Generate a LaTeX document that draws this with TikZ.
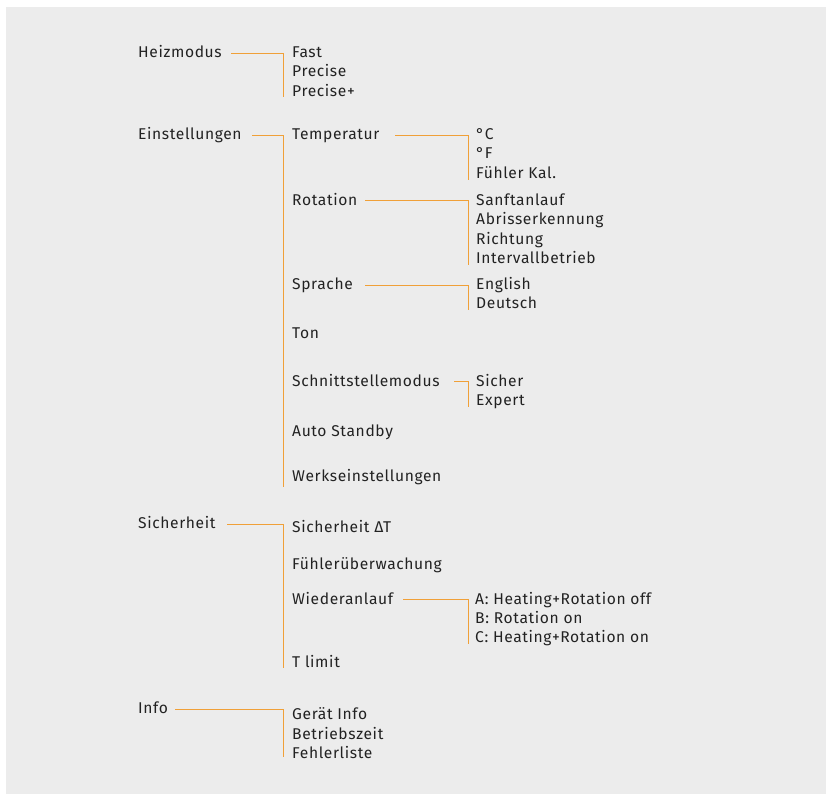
\documentclass[tikz,border=0pt]{standalone}
\usepackage{fontspec}
\setmainfont{Fira Sans}[LetterSpace=4]
\definecolor{bg}{HTML}{ECECEC}
\definecolor{orangeline}{HTML}{F0A038}
\definecolor{txt}{HTML}{222222}
\begin{document}
\begin{tikzpicture}[x=1pt,y=-1pt,
  lbl/.style={anchor=base west,inner sep=0pt,text=txt,font=\fontsize{15.6}{18}\selectfont},
  conn/.style={draw=orangeline,line width=1.4pt}]
\useasboundingbox (0,0) rectangle (830,796);
\fill[bg] (6,7) rectangle (826,794);
% level 1
\node[lbl] (heiz) at (138,57.3) {Heizmodus};
\node[lbl] (einst) at (138,139.5) {Einstellungen};
\node[lbl] (sich) at (138,528.5) {Sicherheit};
\node[lbl] (info) at (138,713.3) {Info};
% level 2
\node[lbl] (fast) at (292,57.3) {Fast};
\node[lbl] (prec) at (292,76.8) {Precise};
\node[lbl] (precp) at (292,96.3) {Precise+};
\node[lbl] (temp) at (292,139.5) {Temperatur};
\node[lbl] (rot) at (292,205) {Rotation};
\node[lbl] (spr) at (292,289.3) {Sprache};
\node[lbl] (ton) at (292,338.5) {Ton};
\node[lbl] (schn) at (292,386.3) {Schnittstellemodus};
\node[lbl] (auto) at (292,436) {Auto Standby};
\node[lbl] (werk) at (292,481.7) {Werkseinstellungen};
\node[lbl] (sdt) at (292,532.5) {Sicherheit ΔT};
\node[lbl] (fuel) at (292,569) {Fühlerüberwachung};
\node[lbl] (wied) at (292,604.3) {Wiederanlauf};
\node[lbl] (tlim) at (292,667.3) {T limit};
\node[lbl] (geraet) at (292,719.3) {Gerät Info};
\node[lbl] (betr) at (292,739) {Betriebszeit};
\node[lbl] (fehl) at (292,758.3) {Fehlerliste};
% level 3
\node[lbl] (degc) at (476,139.5) {°C};
\node[lbl] (degf) at (476,158.8) {°F};
\node[lbl] (fkal) at (476,178.3) {Fühler Kal.};
\node[lbl] (sanft) at (476,205) {Sanftanlauf};
\node[lbl] (abr) at (476,224.5) {Abrisserkennung};
\node[lbl] (richt) at (476,244) {Richtung};
\node[lbl] (interv) at (476,263.5) {Intervallbetrieb};
\node[lbl] (engl) at (476,289.3) {English};
\node[lbl] (deut) at (476,308.8) {Deutsch};
\node[lbl] (sicher) at (476,386.3) {Sicher};
\node[lbl] (expert) at (476,405.8) {Expert};
\node[lbl] (opta) at (475,604.3) {A: Heating+Rotation off};
\node[lbl] (optb) at (475,623.5) {B: Rotation on};
\node[lbl] (optc) at (475,642.7) {C: Heating+Rotation on};
% connector end points
\coordinate (h0) at (231,53.5);  \coordinate (h1) at (283.5,53.5);  \coordinate (h2) at (283.5,96.7);
\coordinate (e0) at (252,135.5); \coordinate (e1) at (283.5,135.5); \coordinate (e2) at (283.5,486.7);
\coordinate (t0) at (395,135.5); \coordinate (t1) at (468.5,135.5); \coordinate (t2) at (468.5,180);
\coordinate (r0) at (365,200.5); \coordinate (r1) at (468.5,200.5); \coordinate (r2) at (468.5,265);
\coordinate (s0) at (365,285.5); \coordinate (s1) at (468.5,285.5); \coordinate (s2) at (468.5,310);
\coordinate (n0) at (454,381.5); \coordinate (n1) at (468.5,381.5); \coordinate (n2) at (468.5,407);
\coordinate (c0) at (227,524.5); \coordinate (c1) at (283.5,524.5); \coordinate (c2) at (283.5,667.7);
\coordinate (w0) at (403,599.5); \coordinate (w1) at (468.5,599.5); \coordinate (w2) at (468.5,644);
\coordinate (i0) at (175,709.5); \coordinate (i1) at (283.5,709.5); \coordinate (i2) at (283.5,756.7);
\draw[conn] (h0) -- (h1) -- (h2);
\draw[conn] (e0) -- (e1) -- (e2);
\draw[conn] (t0) -- (t1) -- (t2);
\draw[conn] (r0) -- (r1) -- (r2);
\draw[conn] (s0) -- (s1) -- (s2);
\draw[conn] (n0) -- (n1) -- (n2);
\draw[conn] (c0) -- (c1) -- (c2);
\draw[conn] (w0) -- (w1) -- (w2);
\draw[conn] (i0) -- (i1) -- (i2);
\end{tikzpicture}
\end{document}
